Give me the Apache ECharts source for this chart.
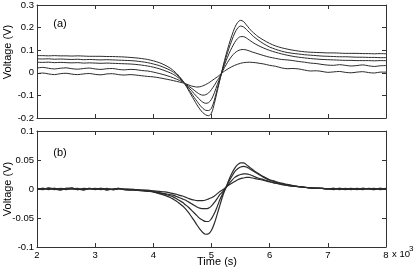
<!DOCTYPE html>
<html><head><meta charset="utf-8">
<script src="https://cdn.jsdelivr.net/npm/echarts@6/dist/echarts.min.js"></script>
<style>html,body{margin:0;padding:0;background:#fff}#c{width:416px;height:269px}</style>
</head><body><div id="c"></div>
<script>
// Time in units of 10^3 s
const T = [2.0,2.1,2.2,2.3,2.4,2.5,2.6,2.7,2.8,2.9,3.0,3.1,3.2,3.3,3.4,3.5,3.6,3.7,3.8,3.9,4.0,4.1,4.2,4.3,
4.35,4.4,4.45,4.5,4.55,4.6,4.65,4.7,4.75,4.8,4.85,4.9,4.95,5.0,5.05,5.1,5.15,5.2,5.25,5.3,5.35,5.4,5.45,5.5,5.55,5.6,5.65,5.7,5.75,5.8,
5.9,6.0,6.1,6.2,6.3,6.4,6.5,6.6,6.7,6.8,6.9,7.0,7.1,7.2,7.3,7.4,7.5,7.6,7.7,7.8,7.9,8.0];

// Panel (a)
const A1 = [0.076,0.076,0.075,0.076,0.075,0.075,0.074,0.075,0.074,0.073,0.073,0.073,0.072,0.072,0.071,0.070,0.068,0.066,0.063,0.059,0.053,0.045,0.034,0.019,
0.009,-0.003,-0.017,-0.033,-0.053,-0.075,-0.098,-0.120,-0.142,-0.161,-0.176,-0.186,-0.190,-0.178,-0.135,-0.080,-0.025,0.030,0.080,0.125,0.165,0.200,0.223,0.232,0.227,0.212,0.196,0.182,0.171,0.160,
0.144,0.130,0.119,0.111,0.105,0.100,0.096,0.093,0.091,0.090,0.089,0.088,0.088,0.087,0.086,0.086,0.086,0.085,0.085,0.084,0.085,0.084];
const A2 = [0.062,0.061,0.062,0.060,0.061,0.060,0.059,0.060,0.058,0.059,0.058,0.057,0.058,0.057,0.056,0.055,0.054,0.052,0.049,0.045,0.039,0.032,0.022,0.010,
0.002,-0.008,-0.020,-0.035,-0.052,-0.070,-0.089,-0.108,-0.126,-0.143,-0.157,-0.166,-0.167,-0.156,-0.120,-0.070,-0.023,0.025,0.068,0.108,0.144,0.176,0.198,0.207,0.203,0.192,0.179,0.166,0.155,0.145,
0.128,0.114,0.104,0.096,0.090,0.086,0.083,0.080,0.078,0.076,0.074,0.073,0.072,0.071,0.071,0.070,0.069,0.069,0.068,0.068,0.067,0.067];
const A3 = [0.047,0.046,0.047,0.045,0.046,0.045,0.044,0.045,0.043,0.044,0.043,0.042,0.043,0.042,0.041,0.040,0.039,0.037,0.034,0.030,0.025,0.018,0.009,-0.001,
-0.008,-0.016,-0.026,-0.037,-0.050,-0.063,-0.077,-0.092,-0.106,-0.119,-0.130,-0.135,-0.132,-0.117,-0.088,-0.052,-0.019,0.019,0.053,0.084,0.111,0.135,0.152,0.160,0.160,0.154,0.145,0.136,0.128,0.121,
0.109,0.099,0.091,0.084,0.078,0.073,0.069,0.066,0.063,0.061,0.059,0.058,0.057,0.056,0.055,0.055,0.054,0.054,0.054,0.053,0.054,0.054];
const A4 = [0.021,0.024,0.020,0.017,0.020,0.022,0.018,0.016,0.019,0.021,0.017,0.015,0.018,0.019,0.015,0.013,0.015,0.014,0.010,0.008,0.003,-0.003,-0.010,-0.018,
-0.023,-0.028,-0.034,-0.040,-0.049,-0.058,-0.067,-0.077,-0.087,-0.095,-0.099,-0.097,-0.089,-0.074,-0.055,-0.034,-0.014,0.012,0.035,0.056,0.074,0.088,0.097,0.102,0.103,0.101,0.097,0.092,0.088,0.084,
0.076,0.069,0.064,0.059,0.057,0.054,0.050,0.047,0.043,0.041,0.037,0.034,0.033,0.036,0.033,0.030,0.032,0.035,0.031,0.028,0.031,0.032];
const A5 = [-0.004,-0.001,-0.005,-0.008,-0.004,-0.002,-0.006,-0.008,-0.005,-0.003,-0.007,-0.009,-0.005,-0.004,-0.008,-0.010,-0.008,-0.010,-0.013,-0.016,-0.018,-0.022,-0.027,-0.032,
-0.035,-0.038,-0.041,-0.044,-0.048,-0.053,-0.058,-0.061,-0.063,-0.062,-0.058,-0.052,-0.045,-0.036,-0.027,-0.018,-0.008,0.003,0.012,0.020,0.027,0.033,0.038,0.042,0.045,0.046,0.047,0.046,0.045,0.043,
0.039,0.033,0.029,0.022,0.018,0.019,0.017,0.012,0.008,0.009,0.006,0.002,0.004,0.006,0.002,0.000,0.003,0.005,0.001,-0.001,0.003,0.003];

// Panel (b)
const B1 = [0.001,-0.001,0.002,0.000,-0.002,0.001,0.002,-0.001,0.000,0.001,-0.001,0.001,-0.002,0.000,0.001,-0.001,-0.002,-0.002,-0.003,-0.004,-0.005,-0.008,-0.011,-0.015,
-0.018,-0.021,-0.025,-0.029,-0.034,-0.040,-0.047,-0.054,-0.062,-0.069,-0.075,-0.078,-0.077,-0.071,-0.059,-0.043,-0.026,-0.010,0.003,0.016,0.027,0.036,0.042,0.045,0.045,0.042,0.038,0.034,0.030,0.027,
0.021,0.016,0.013,0.010,0.008,0.006,0.004,0.003,0.002,0.002,0.001,0.000,0.001,-0.001,0.001,0.000,-0.001,0.001,0.000,0.001,-0.001,0.000];
const B2 = [0.000,0.001,-0.001,0.001,0.000,-0.001,0.001,0.000,-0.002,0.001,0.000,-0.001,0.001,-0.001,0.000,0.000,-0.001,-0.002,-0.003,-0.003,-0.005,-0.007,-0.009,-0.012,
-0.014,-0.017,-0.020,-0.023,-0.027,-0.031,-0.036,-0.041,-0.046,-0.051,-0.054,-0.056,-0.056,-0.051,-0.042,-0.030,-0.017,-0.007,0.003,0.013,0.022,0.030,0.035,0.038,0.039,0.038,0.035,0.032,0.029,0.026,
0.020,0.015,0.012,0.009,0.007,0.005,0.004,0.003,0.002,0.001,0.001,0.000,-0.001,0.001,0.000,0.001,0.000,-0.001,0.001,0.000,0.000,0.001];
const B3 = [0.001,0.000,0.001,-0.001,0.001,0.000,0.000,0.001,-0.001,0.000,0.001,0.000,-0.001,0.000,0.001,-0.001,-0.001,-0.001,-0.002,-0.003,-0.004,-0.006,-0.008,-0.010,
-0.011,-0.013,-0.015,-0.017,-0.019,-0.022,-0.025,-0.028,-0.031,-0.033,-0.034,-0.034,-0.033,-0.029,-0.023,-0.016,-0.009,-0.004,0.003,0.009,0.015,0.020,0.023,0.025,0.026,0.026,0.025,0.023,0.021,0.019,
0.016,0.013,0.010,0.008,0.006,0.005,0.004,0.003,0.002,0.001,0.001,0.000,0.001,0.000,-0.001,0.000,0.001,0.000,0.000,-0.001,0.001,0.000];
const B4 = [0.000,0.001,0.000,0.001,-0.001,0.001,0.000,-0.001,0.001,0.000,0.000,0.001,0.000,-0.001,0.000,0.000,0.000,-0.001,-0.002,-0.002,-0.003,-0.004,-0.005,-0.007,
-0.008,-0.009,-0.011,-0.012,-0.014,-0.016,-0.018,-0.019,-0.020,-0.020,-0.020,-0.019,-0.017,-0.015,-0.012,-0.008,-0.004,-0.001,0.003,0.007,0.010,0.013,0.016,0.018,0.019,0.020,0.020,0.019,0.018,0.017,
0.015,0.012,0.010,0.008,0.006,0.005,0.004,0.003,0.002,0.001,0.001,0.000,0.000,0.001,0.000,-0.001,0.000,0.001,0.000,0.000,0.001,0.000];

const seriesA = [A1, A2, A3, A4, A5];
const seriesB = [B1, B2, B3, B4];
const xTicks = [2, 3, 4, 5, 6, 7, 8];

const FONT = 'Liberation Sans, Arial, sans-serif';
const LINE = '#2b2b2b';
const BOX = '#333';

function pts(vals) { return T.map((t, i) => [t, vals[i]]); }
function fmt(v) { return String(+v.toFixed(3)); }

function xAx(grid, pos, labels) {
  return {
    type: 'value', gridIndex: grid, position: pos, min: 2, max: 8, interval: 1,
    axisLine: { show: true, onZero: false, lineStyle: { color: BOX, width: 1 } },
    axisTick: { show: true, inside: true, length: 4, lineStyle: { color: BOX } },
    axisLabel: { show: labels, color: '#000', fontSize: 9.5, fontFamily: FONT, margin: 3,
      formatter: v => xTicks.includes(v) ? String(v) : '' },
    splitLine: { show: false }
  };
}
function yAx(grid, pos, min, max, iv, labels) {
  return {
    type: 'value', gridIndex: grid, position: pos, min: min, max: max, interval: iv,
    axisLine: { show: true, onZero: false, lineStyle: { color: BOX, width: 1 } },
    axisTick: { show: true, inside: true, length: 4, lineStyle: { color: BOX } },
    axisLabel: { show: labels, color: '#000', fontSize: 9.5, fontFamily: FONT, margin: 3, formatter: fmt },
    splitLine: { show: false }
  };
}

const series = [];
seriesA.forEach(a => series.push({ type: 'line', xAxisIndex: 0, yAxisIndex: 0, data: pts(a),
  showSymbol: false, smooth: 0.3, lineStyle: { color: LINE, width: 1 }, silent: true }));
seriesB.forEach(b => series.push({ type: 'line', xAxisIndex: 2, yAxisIndex: 2, data: pts(b),
  showSymbol: false, smooth: 0.3, lineStyle: { color: LINE, width: 1.2 }, silent: true }));

const chart = echarts.init(document.getElementById('c'), null, { renderer: 'canvas' });
chart.setOption({
  animation: false,
  backgroundColor: '#fff',
  grid: [
    { left: 37, width: 349, top: 4, height: 114 },
    { left: 37, width: 349, top: 131, height: 116 }
  ],
  xAxis: [xAx(0, 'bottom', false), xAx(0, 'top', false), xAx(1, 'bottom', true), xAx(1, 'top', false)],
  yAxis: [yAx(0, 'left', -0.2, 0.3, 0.1, true), yAx(0, 'right', -0.2, 0.3, 0.1, false),
          yAx(1, 'left', -0.1, 0.1, 0.05, true), yAx(1, 'right', -0.1, 0.1, 0.05, false)],
  series: series,
  graphic: [
    { type: 'text', x: 8, y: 52, rotation: Math.PI / 2,
      style: { text: 'Voltage (V)', font: '11px ' + FONT, fill: '#000', align: 'center', verticalAlign: 'middle' } },
    { type: 'text', x: 8, y: 189, rotation: Math.PI / 2,
      style: { text: 'Voltage (V)', font: '11px ' + FONT, fill: '#000', align: 'center', verticalAlign: 'middle' } },
    { type: 'text', x: 60, y: 24,
      style: { text: '(a)', font: '11px ' + FONT, fill: '#000', align: 'center', verticalAlign: 'middle' } },
    { type: 'text', x: 60, y: 153,
      style: { text: '(b)', font: '11px ' + FONT, fill: '#000', align: 'center', verticalAlign: 'middle' } },
    { type: 'text', x: 217, y: 262,
      style: { text: 'Time (s)', font: '11px ' + FONT, fill: '#000', align: 'center', verticalAlign: 'middle' } },
    { type: 'text', x: 392, y: 254,
      style: { text: 'x 10', font: '9.5px ' + FONT, fill: '#000', align: 'left', verticalAlign: 'middle' } },
    { type: 'text', x: 409, y: 249,
      style: { text: '3', font: '8px ' + FONT, fill: '#000', align: 'left', verticalAlign: 'middle' } }
  ]
});
</script></body></html>
